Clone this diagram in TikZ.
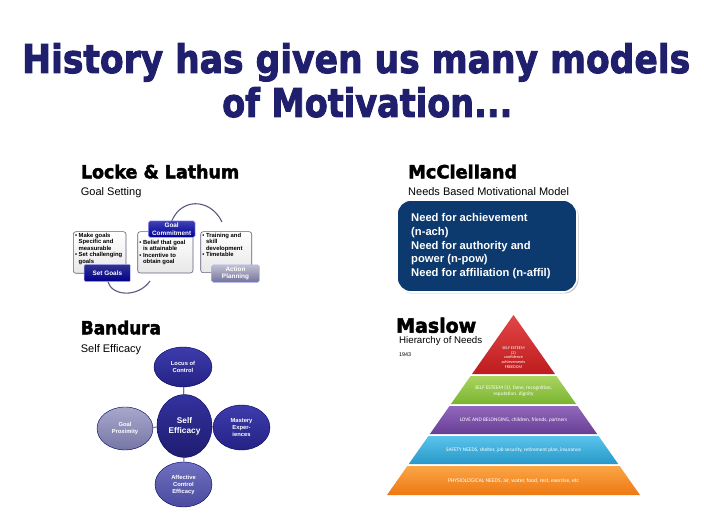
\documentclass[tikz,border=0pt]{standalone}
\usepackage{fontspec}
\usepackage{graphicx}
\setmainfont{Liberation Sans}
\newfontfamily\headfont[BoldFeatures={FakeBold=2.5}]{DejaVu Sans}
\newfontfamily\pyrfont{Carlito}
\usetikzlibrary{shapes.geometric,shadows}
\definecolor{titleblue}{RGB}{31,31,110}
\definecolor{mcblue}{RGB}{12,58,110}
\definecolor{arcgray}{RGB}{90,90,125}
\definecolor{boxedge}{RGB}{95,95,125}
\definecolor{spokegray}{RGB}{110,110,150}
\definecolor{darktop}{RGB}{62,60,172}
\definecolor{darkbot}{RGB}{36,34,132}
\definecolor{centop}{RGB}{52,50,158}
\definecolor{cenbot}{RGB}{30,28,112}
\definecolor{graytop}{RGB}{168,168,204}
\definecolor{graybot}{RGB}{118,118,166}
\definecolor{midtop}{RGB}{112,112,194}
\definecolor{midbot}{RGB}{74,74,158}
\newcommand\mbandfill[4]{%
  \shade[top color=#3,bottom color=#4]
    ({513.5-0.7028*(#1-315)},#1) -- ({513.5+0.7028*(#1-315)},#1) --
    ({513.5+0.7028*(#2-315)},#2) -- ({513.5-0.7028*(#2-315)},#2) -- cycle;}
\begin{document}
\begin{tikzpicture}[x=1pt,y=-1pt,
  heading/.style={anchor=base west,inner sep=0pt,text=black},
  subhead/.style={anchor=base west,inner sep=0pt,font=\fontsize{11}{13}\selectfont},
  wbox/.style={draw=boxedge,line width=0.6pt,rounded corners=2.5pt,top color=white,bottom color=black!9,inner sep=0pt},
  lbox/.style={draw=white!70!blue,line width=0.5pt,rounded corners=1.5pt,inner sep=0pt,text=white,align=center,font=\fontsize{6.4}{7.2}\selectfont\bfseries},
  btext/.style={anchor=north west,inner sep=0pt,align=left,font=\fontsize{5.9}{6.6}\selectfont\bfseries},
  arcline/.style={draw=arcgray,line width=1.1pt},
  ell/.style={ellipse,draw=black!60!blue,line width=0.4pt,inner sep=0pt,text=white,align=center,font=\fontsize{5.8}{7}\selectfont\bfseries},
  spoke/.style={draw=spokegray,line width=1pt},
  ptext/.style={text=white,inner sep=0pt,align=center,font=\pyrfont\fontsize{5.3}{6}\selectfont}]
\path[use as bounding box,fill=white] (0,0) rectangle (704,521);

% Title
\node[anchor=base west,inner sep=0pt,text=titleblue] (title1) at (22,73)
  {\resizebox{668pt}{30pt}{\headfont\bfseries History has given us many models}};
\node[anchor=base west,inner sep=0pt,text=titleblue] (title2) at (222,117)
  {\resizebox{290pt}{30pt}{\headfont\bfseries of Motivation...}};

% Headings
\node[heading] (locke) at (80.7,178.3) {\resizebox{158.3pt}{13.8pt}{\headfont\bfseries Locke \& Lathum}};
\node[subhead] (lockesub) at (80.7,196) {Goal Setting};
\node[heading] (mcc) at (408,178.3) {\resizebox{109pt}{13.8pt}{\headfont\bfseries McClelland}};
\node[subhead] (mccsub) at (408,196) {Needs Based Motivational Model};
\node[heading] (band) at (80.7,334.3) {\resizebox{80pt}{13.8pt}{\headfont\bfseries Bandura}};
\node[subhead] (bandsub) at (80.7,352.7) {Self Efficacy};
\node[heading] (mas) at (396,332.7) {\resizebox{80pt}{15pt}{\headfont\bfseries Maslow}};
\node[anchor=base west,inner sep=0pt,font=\fontsize{9.7}{11}\selectfont] (massub) at (399,343.7) {Hierarchy of Needs};
\node[anchor=base west,inner sep=0pt,font=\fontsize{5.4}{6}\selectfont] (year) at (399,356) {1943};

% Locke & Lathum diagram
\coordinate (a1s) at (170,226);
\coordinate (a1e) at (222,222);
\coordinate (a2s) at (108,282);
\coordinate (a2e) at (150,281);
\draw[arcline] (a1s) .. controls (178,197) and (210,197) .. (a1e);
\draw[arcline] (a2s) .. controls (112,296) and (138,298) .. (a2e);
\node[wbox,minimum width=52.7pt,minimum height=41.6pt] (box1) at (99.65,252.5) {};
\node[wbox,minimum width=55.3pt,minimum height=41.3pt] (box2) at (165.35,252.35) {};
\node[wbox,minimum width=51pt,minimum height=41pt] (box3) at (226.2,252.2) {};
\node[btext] (t1) at (74.8,232.6) {\textbullet\ Make goals\\\phantom{\textbullet\ }Specific and\\\phantom{\textbullet\ }measurable\\\textbullet\ Set challenging\\\phantom{\textbullet\ }goals};
\node[btext] (t2) at (139.2,239.6) {\textbullet\ Belief that goal\\\phantom{\textbullet\ }is attainable\\\textbullet\ Incentive to\\\phantom{\textbullet\ }obtain goal};
\node[btext] (t3) at (202.2,232.6) {\textbullet\ Training and\\\phantom{\textbullet\ }skill\\\phantom{\textbullet\ }development\\\textbullet\ Timetable};
\node[lbox,top color=blue!45!black!80!white,bottom color=blue!55!black,minimum width=46.7pt,minimum height=17.4pt] (sg) at (107.35,273) {Set Goals};
\node[lbox,top color=blue!60!black!75!white,bottom color=blue!60!black,minimum width=46.7pt,minimum height=16.3pt] (gc) at (171.65,229.15) {Goal\\Commitment};
\node[lbox,top color=blue!25!black!25!white,bottom color=blue!30!black!55!white,minimum width=47.6pt,minimum height=17.3pt] (ap) at (235.5,273.65) {Action\\Planning};

% McClelland box
\node[rounded corners=14pt,fill=mcblue,draw=white,line width=1.6pt,minimum width=180pt,minimum height=92pt,inner sep=0pt,
  drop shadow={shadow xshift=1.5pt,shadow yshift=-1.5pt,fill=black!45}] (mcbox) at (487,246) {};
\node[anchor=north west,inner sep=0pt,align=left,text=white,font=\fontsize{11.2}{13.75}\selectfont\bfseries] (mctext) at (411,213.2)
  {Need for achievement\\(n-ach)\\Need for authority and\\power (n-pow)\\Need for affiliation (n-affil)};

% Bandura diagram
\draw[spoke] (184.5,426) -- (183,367);
\node[ell,top color=centop,bottom color=cenbot,minimum width=55pt,minimum height=63pt,font=\fontsize{8.3}{10}\selectfont\bfseries] (se) at (184.5,426) {Self\\Efficacy};
\node[ell,top color=darktop,bottom color=darkbot,minimum width=58pt,minimum height=40pt] (lc) at (183,367) {Locus of\\Control};
\node[ell,top color=darktop,bottom color=darkbot,minimum width=57pt,minimum height=45pt] (me) at (241.5,427.5) {Mastery\\Exper-\\iences};
\node[ell,top color=graytop,bottom color=graybot,minimum width=56pt,minimum height=43pt] (gp) at (125,428.5) {Goal\\Proximity};
\node[ell,top color=midtop,bottom color=midbot,minimum width=57pt,minimum height=45pt] (ace) at (183.5,484.5) {Affective\\Control\\Efficacy};
\draw[spoke] (se) -- (lc);
\draw[spoke] (se) -- (me);
\draw[spoke] (se) -- (gp);
\draw[spoke] (se) -- (ace);

% Maslow pyramid
\shade[top color={rgb,255:red,226;green,70;blue,70},bottom color={rgb,255:red,190;green,28;blue,30}]
  (513.5,315) -- ({513.5+0.7028*(374-315)},374) -- ({513.5-0.7028*(374-315)},374) -- cycle;
\mbandfill{376}{404}{{rgb,255:red,170;green,212;blue,95}}{{rgb,255:red,122;green,180;blue,48}}
\mbandfill{406}{434}{{rgb,255:red,146;green,104;blue,188}}{{rgb,255:red,104;green,62;blue,150}}
\mbandfill{436}{464}{{rgb,255:red,90;green,196;blue,236}}{{rgb,255:red,40;green,152;blue,200}}
\mbandfill{466}{495}{{rgb,255:red,250;green,166;blue,70}}{{rgb,255:red,238;green,120;blue,18}}
\node[ptext,font=\pyrfont\fontsize{4.2}{4.7}\selectfont] (p1) at (513.5,357.5) {SELF ESTEEM\\(2)\\confidence\\achievements\\FREEDOM};
\node[ptext] (p2) at (513.5,391) {SELF ESTEEM (1), fame, recognition,\\reputation, dignity};
\node[ptext] (p3) at (513.5,420) {LOVE AND BELONGING, children, friends, partners};
\node[ptext] (p4) at (513.5,450.5) {SAFETY NEEDS, shelter, job security, retirement plan, insurance};
\node[ptext,font=\pyrfont\fontsize{5.6}{6.5}\selectfont] (p5) at (513.5,480.5) {PHYSIOLOGICAL NEEDS, air, water, food, rest, exercise, etc};
\end{tikzpicture}
\end{document}
